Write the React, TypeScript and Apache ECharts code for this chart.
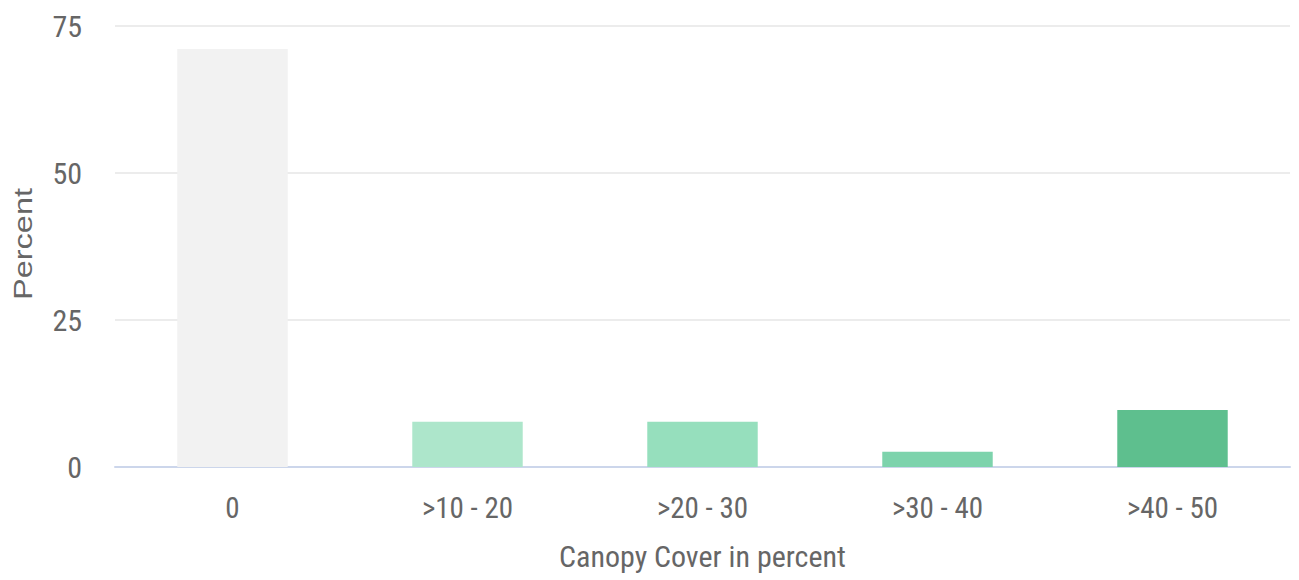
import React, { useEffect, useRef } from "react";
import * as echarts from "echarts";

const categories = ["0", ">10 - 20", ">20 - 30", ">30 - 40", ">40 - 50"];
const values = [71.1, 7.7, 7.7, 2.6, 9.7];
const barColors = ["#f2f2f2", "#ade6cb", "#96dfbd", "#7dd3ac", "#5ebf8e"];
const yTicks = [0, 25, 50, 75];
const xTitle = "Canopy Cover in percent";
const yTitle = "Percent";

const NARROW = "'Liberation Sans Narrow', 'Roboto Condensed', 'Liberation Sans', sans-serif";
const WIDE = "'Liberation Sans', Arial, sans-serif";
const TEXT = "#666666";

export default function App() {
  const ref = useRef<HTMLDivElement>(null);
  useEffect(() => {
    if (!ref.current) return;
    const chart = echarts.init(ref.current, null, { renderer: "svg" });
    chart.setOption({
      animation: false,
      grid: { left: 115, right: 9, top: 26, bottom: 113, containLabel: false },
      xAxis: {
        type: "category",
        data: categories,
        name: xTitle,
        nameLocation: "middle",
        nameGap: 74,
        nameTextStyle: { fontFamily: NARROW, fontSize: 30, color: TEXT },
        axisLine: { lineStyle: { color: "#ccd6eb", width: 2 } },
        axisTick: { show: false },
        axisLabel: { fontFamily: NARROW, fontSize: 29, color: TEXT, margin: 26 },
      },
      yAxis: {
        type: "value",
        min: yTicks[0],
        max: yTicks[yTicks.length - 1],
        interval: 25,
        axisLine: { show: false },
        axisTick: { show: false },
        axisLabel: { fontFamily: NARROW, fontSize: 30, color: TEXT, margin: 33 },
        splitLine: { lineStyle: { color: "#e6e6e6", width: 1.5 } },
      },
      graphic: [
        {
          type: "text",
          x: 23,
          y: 244,
          rotation: Math.PI / 2,
          scaleX: 1.3,
          style: {
            text: yTitle,
            fontFamily: WIDE,
            fontSize: 25,
            fill: TEXT,
            textAlign: "center",
            textVerticalAlign: "middle",
          },
        },
      ],
      series: [
        {
          type: "bar",
          barWidth: "47%",
          data: values.map((v, i) => ({ value: v, itemStyle: { color: barColors[i] } })),
        },
      ],
    });
    return () => chart.dispose();
  }, []);
  return <div ref={ref} style={{ width: 1299, height: 580, position: "absolute", left: 0, top: 0 }} />;
}
